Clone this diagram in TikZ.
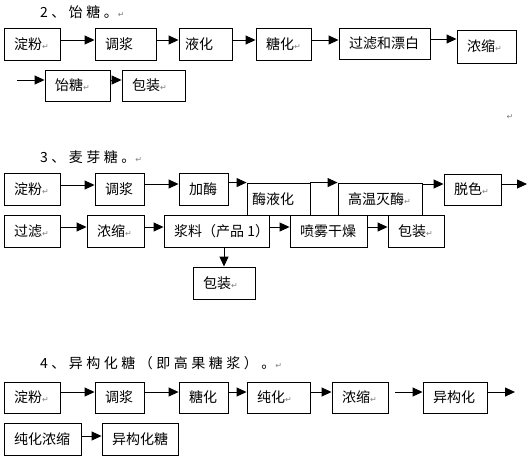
\documentclass[tikz,border=0pt]{standalone}
\usepackage{fontspec}
\setmainfont{Noto Sans CJK SC}
\newfontfamily\ttlfont[LetterSpace=25]{Noto Sans CJK SC}
\newfontfamily\markfont{DejaVu Sans}
\usetikzlibrary{arrows.meta}
\newcommand\retmark{\textcolor{gray}{\markfont\fontsize{8}{9}\selectfont ↵}}
\tikzset{
  bx/.style={draw, line width=0.9pt, inner sep=0pt},
  lbl/.style={anchor=west, inner sep=0pt, font=\fontsize{14}{16}\selectfont},
  ttl/.style={anchor=west, inner sep=0pt, font=\ttlfont\fontsize{14}{16}\selectfont},
  arr/.style={line width=0.9pt, -{Triangle[length=10pt,width=9pt]}},
  pmark/.style={inner sep=0pt}
}
\newcommand\bx[7][10]{%
  \node[bx, minimum width={#5pt-#3pt}, minimum height={#6pt-#4pt}] (#2) at ({(#3+#5)/2},{(#4+#6)/2}) {};
  \node[lbl] (#2t) at ({#3+#1},{(#4+#6)/2}) {#7};
}
\begin{document}
\begin{tikzpicture}[x=1pt,y=-1pt]
\useasboundingbox (0,0) rectangle (528,475);
% ---- section 2
\node[ttl] (t2) at (40,12) {2、饴糖。\retmark};
\bx{a1}{4}{28}{60}{60}{淀粉\retmark}
\bx{a2}{95}{28}{156}{60}{调浆}
\bx[6]{a3}{179}{28}{232}{60}{液化}
\bx{a4}{256}{28}{311}{60}{糖化\retmark}
\bx{a5}{339}{28}{430}{59}{过滤和漂白}
\bx{a6}{457}{30}{516}{63}{浓缩\retmark}
\bx{a7}{45}{70}{110}{101}{饴糖\retmark}
\bx{a8}{122}{70}{185}{101}{包装\retmark}
\draw[arr] (a1.east |- 0,40) -- (a2.west |- 0,40);
\draw[arr] (a2.east |- 0,40) -- (a3.west |- 0,40);
\draw[arr] (a3.east |- 0,40) -- (a4.west |- 0,40);
\draw[arr] (a4.east |- 0,40) -- (a5.west |- 0,40);
\draw[arr] (a5.east |- 0,39) -- (a6.west |- 0,39);
\coordinate (s7) at (17,80);
\draw[arr] (s7) -- (a7.west |- s7);
\draw[arr] (a7.east |- 0,80) -- (a8.west |- 0,80);
\node[pmark] (m1) at (510,117) {\retmark};
% ---- section 3
\node[ttl] (t3) at (40,157) {3、麦芽糖。\retmark};
\bx{b1}{4}{173}{60}{205}{淀粉\retmark}
\bx{b2}{95}{173}{144}{205}{调浆}
\bx{b3}{179}{173}{228}{205}{加酶}
\bx[5]{b4}{247}{183}{310}{215}{酶液化}
\bx{b5}{338}{183}{422}{215}{高温灭酶\retmark}
\bx{b6}{444}{174}{501}{205}{脱色\retmark}
\bx{c1}{4}{215}{60}{247}{过滤\retmark}
\bx{c2}{87}{215}{144}{247}{浓缩\retmark}
\bx{c3}{164}{215}{269}{247}{浆料（产品 1）}
\bx{c4}{290}{215}{367}{247}{喷雾干燥}
\bx{c5}{388}{215}{444}{247}{包装\retmark}
\bx{c6}{193}{267}{255}{299}{包装\retmark}
\draw[arr] (b1.east |- 0,185) -- (b2.west |- 0,185);
\draw[arr] (b2.east |- 0,184) -- (b3.west |- 0,184);
\draw[arr] (b3.east |- b4.north) -- (b4.north west);
\draw[arr] (b4.north east) -- (b5.north west);
\draw[arr] (b5.east |- 0,184) -- (b6.west |- 0,184);
\coordinate (e6) at (527,184);
\draw[arr] (b6.east |- e6) -- (e6);
\draw[arr] (c1.east |- 0,227) -- (c2.west |- 0,227);
\draw[arr] (c2.east |- 0,227) -- (c3.west |- 0,227);
\draw[arr] (c3.east |- 0,227) -- (c4.west |- 0,227);
\draw[arr] (c4.east |- 0,227) -- (c5.west |- 0,227);
\draw[arr] (c3.south -| c6.north) -- (c6.north);
% ---- section 4
\node[ttl] (t4) at (40,363) {4、异构化糖（即高果糖浆）。\retmark};
\bx{d1}{4}{382}{60}{413}{淀粉\retmark}
\bx{d2}{95}{382}{144}{413}{调浆}
\bx{d3}{179}{382}{228}{413}{糖化}
\bx{d4}{247}{382}{310}{413}{纯化\retmark}
\bx{d5}{332}{382}{388}{413}{浓缩\retmark}
\bx{d6}{423}{382}{487}{413}{异构化}
\bx{e1}{4}{423}{81}{455}{纯化浓缩}
\bx{e2}{102}{423}{178}{455}{异构化糖}
\draw[arr] (d1.east |- 0,392) -- (d2.west |- 0,392);
\draw[arr] (d2.east |- 0,392) -- (d3.west |- 0,392);
\draw[arr] (d3.east |- 0,392) -- (d4.west |- 0,392);
\draw[arr] (d4.east |- 0,392) -- (d5.west |- 0,392);
\coordinate (s6) at (395,392);
\draw[arr] (s6) -- (d6.west |- s6);
\coordinate (e7) at (515,392);
\draw[arr] (d6.east |- e7) -- (e7);
\draw[arr] (e1.east |- 0,436) -- (e2.west |- 0,436);
\end{tikzpicture}
\end{document}
